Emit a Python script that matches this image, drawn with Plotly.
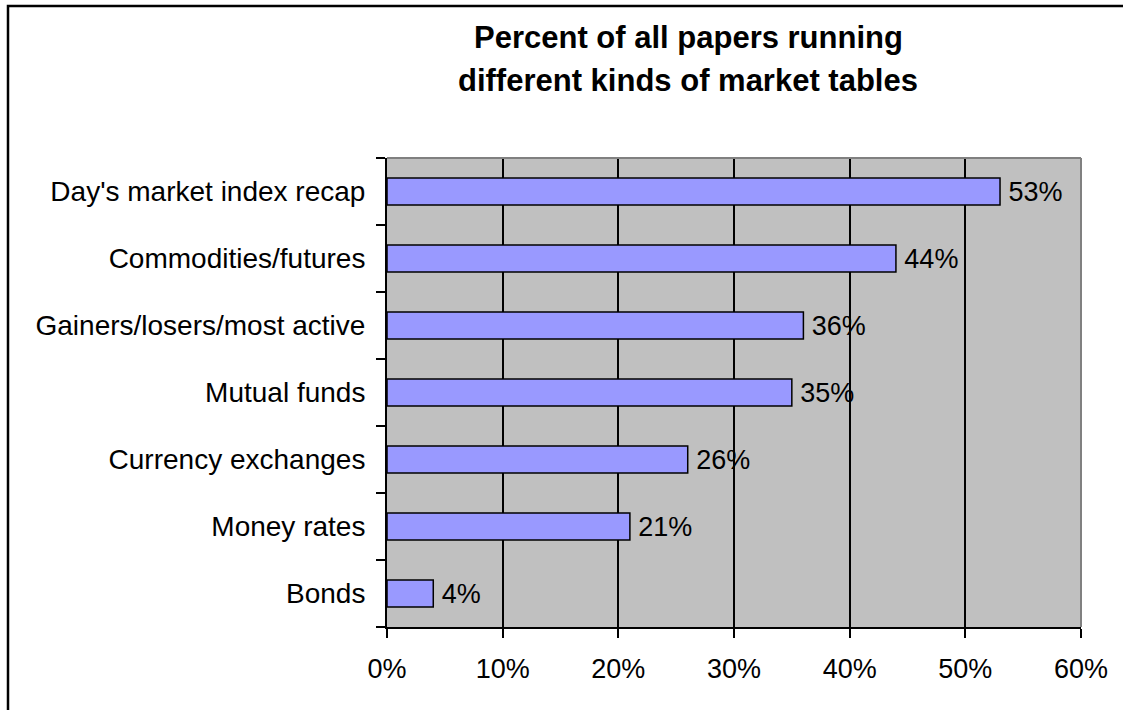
import plotly.graph_objects as go

# Market-table categories, listed bottom to top as they appear on the axis
categories = [
    "Bonds",
    "Money rates",
    "Currency exchanges",
    "Mutual funds",
    "Gainers/losers/most active",
    "Commodities/futures",
    "Day's market index recap",
]
# Share of all papers running each kind of table
shares = [0.04, 0.21, 0.26, 0.35, 0.36, 0.44, 0.53]

x_ticks = [0, 0.1, 0.2, 0.3, 0.4, 0.5, 0.6]
x_tick_text = ["0%", "10%", "20%", "30%", "40%", "50%", "60%"]

title_lines = ["Percent of all papers running", "different kinds of market tables"]

FONT = "Liberation Sans, Arial, sans-serif"

W, H = 1123, 710
L, R, T, B = 387, 42, 158, 83
plot_w = W - L - R
plot_h = H - T - B

fig = go.Figure(
    go.Bar(
        x=shares,
        y=categories,
        orientation="h",
        width=0.4,
        marker=dict(color="#9999FF", line=dict(color="#000000", width=1.5)),
        text=shares,
        texttemplate="\u2009%{x:.0%}",
        textposition="outside",
        constraintext="none",
        cliponaxis=False,
        textfont=dict(family=FONT, size=27, color="#000000"),
        hoverinfo="skip",
    )
)

# two-line bold title, one annotation per line centred over the chart
title_annotations = [
    dict(
        text="<b>" + line + "</b>",
        xref="paper", yref="paper",
        x=(688 - L) / plot_w, y=1 + (T - yc) / plot_h,
        xanchor="center", yanchor="middle",
        showarrow=False,
        font=dict(family=FONT, size=31, color="#000000"),
    )
    for line, yc in zip(title_lines, [37, 80])
]

fig.update_layout(
    width=W,
    height=H,
    margin=dict(l=L, r=R, t=T, b=B),
    paper_bgcolor="#FFFFFF",
    plot_bgcolor="#C0C0C0",
    showlegend=False,
    font=dict(family=FONT, size=27, color="#000000"),
    annotations=title_annotations,
    xaxis=dict(
        range=[0, 0.6],
        tickvals=x_ticks,
        ticktext=x_tick_text,
        showgrid=True,
        gridcolor="#000000",
        gridwidth=1.5,
        zeroline=False,
        showline=True,
        linecolor="#000000",
        linewidth=2,
        ticks="outside",
        ticklen=9,
        tickwidth=2,
        tickcolor="#000000",
        ticklabelstandoff=8,
        tickfont=dict(family=FONT, size=27),
        fixedrange=True,
    ),
    yaxis=dict(
        type="category",
        categoryorder="array",
        categoryarray=categories,
        range=[-0.5, len(categories) - 0.5],
        showgrid=False,
        zeroline=False,
        showline=True,
        linecolor="#000000",
        linewidth=2,
        ticks="outside",
        tickson="boundaries",
        ticklen=9,
        tickwidth=2,
        tickcolor="#000000",
        ticklabelstandoff=14,
        tickfont=dict(family=FONT, size=28),
        fixedrange=True,
    ),
    shapes=[
        # gray top and right edges of the plot area
        dict(type="line", xref="paper", yref="paper", x0=0, x1=1, y0=1, y1=1,
             line=dict(color="#808080", width=2), layer="above"),
        dict(type="line", xref="paper", yref="paper", x0=1, x1=1, y0=0, y1=1,
             line=dict(color="#808080", width=2), layer="above"),
        # outer chart frame
        dict(type="rect", xref="paper", yref="paper",
             x0=(8 - L) / plot_w, x1=(W + 20 - L) / plot_w,
             y0=-(B + 20) / plot_h, y1=1 + (T - 6) / plot_h,
             line=dict(color="#000000", width=2.5), fillcolor="rgba(0,0,0,0)",
             layer="above"),
    ],
)

fig.write_html("out.html", config={"displayModeBar": False})
